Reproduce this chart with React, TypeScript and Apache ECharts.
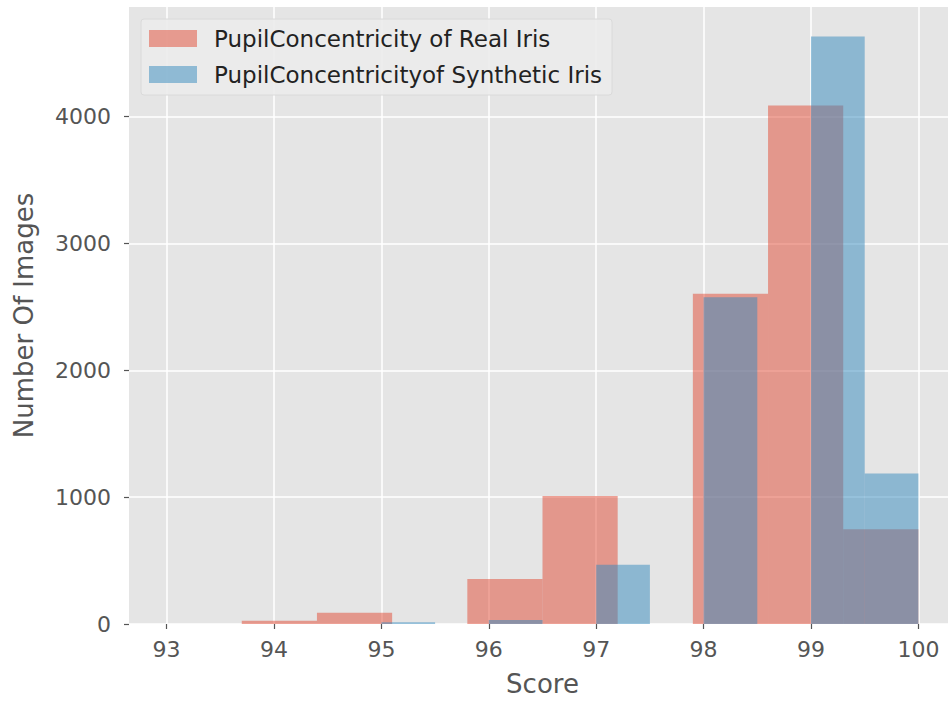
import React, { useEffect, useRef } from "react";
import * as echarts from "echarts";

const realEdges = [93.0, 93.7, 94.4, 95.1, 95.8, 96.5, 97.2, 97.9, 98.6, 99.3, 100.0];
const realCounts = [0, 25, 88, 0, 355, 1010, 0, 2603, 4088, 746];
const synthEdges = [95.0, 95.5, 96.0, 96.5, 97.0, 97.5, 98.0, 98.5, 99.0, 99.5, 100.0];
const synthCounts = [13, 0, 32, 0, 468, 0, 2576, 0, 4632, 1187];
const xTicks = [93, 94, 95, 96, 97, 98, 99, 100];
const yTicks = [0, 1000, 2000, 3000, 4000];
const seriesNames = ["PupilConcentricity of Real Iris", "PupilConcentricityof Synthetic Iris"];

function toBins(edges: number[], counts: number[]) {
  return counts.map((c, i) => [edges[i], edges[i + 1], c]);
}

const renderHist = (params: any, api: any) => {
  const x0 = api.value(0);
  const x1 = api.value(1);
  const y = api.value(2);
  const p0 = api.coord([x0, y]);
  const p1 = api.coord([x1, 0]);
  return {
    type: "rect",
    shape: { x: p0[0], y: p0[1], width: p1[0] - p0[0], height: p1[1] - p0[1] },
    style: api.style(),
  };
};

export default function App() {
  const ref = useRef<HTMLDivElement>(null);
  useEffect(() => {
    if (!ref.current) return;
    const chart = echarts.init(ref.current, undefined, { renderer: "svg" });
    const font = "DejaVu Sans";
    chart.setOption({
      animation: false,
      backgroundColor: "#ffffff",
      grid: { left: 129, right: 4, top: 7, bottom: 77, show: true, backgroundColor: "#E5E5E5", borderWidth: 0 },
      legend: {
        left: 141,
        top: 19,
        orient: "vertical",
        padding: [8, 10, 9, 8],
        itemGap: 13,
        itemWidth: 48,
        itemHeight: 17,
        backgroundColor: "rgba(235,235,235,0.9)",
        borderColor: "#DADADA",
        borderWidth: 1,
        borderRadius: 3,
        icon: "rect",
        textStyle: { fontFamily: font, fontSize: 23, color: "#222222", lineHeight: 22, padding: [0, 0, 0, 12] },
        data: seriesNames,
      },
      xAxis: {
        type: "value",
        min: 92.65,
        max: 100.35,
        splitNumber: 8,
        name: "Score",
        nameLocation: "middle",
        nameGap: 47,
        nameTextStyle: { fontFamily: font, fontSize: 26, color: "#555555" },
        axisLine: { show: false },
        axisTick: { show: true, length: 5, lineStyle: { color: "#555555", width: 1.2 }, customValues: xTicks },
        axisLabel: {
          fontFamily: font,
          fontSize: 22,
          color: "#555555",
          margin: 14,
          customValues: xTicks,
          formatter: (v: number) => String(v),
        },
        splitLine: { show: true, lineStyle: { color: "#ffffff", width: 1.5 } },
      },
      yAxis: {
        type: "value",
        min: 0,
        max: 4864,
        interval: 1000,
        name: "Number Of Images",
        nameLocation: "middle",
        nameGap: 92,
        nameTextStyle: { fontFamily: font, fontSize: 26, color: "#555555" },
        axisLine: { show: false },
        axisTick: { show: true, length: 5, lineStyle: { color: "#555555", width: 1.2 }, customValues: yTicks },
        axisLabel: {
          fontFamily: font,
          fontSize: 22,
          color: "#555555",
          margin: 18,
          customValues: yTicks,
          formatter: (v: number) => String(v),
        },
        splitLine: { show: true, lineStyle: { color: "#ffffff", width: 1.5 } },
      },
      series: [
        {
          name: seriesNames[0],
          type: "custom",
          renderItem: renderHist,
          encode: { x: [0, 1], y: 2 },
          itemStyle: { color: "rgba(226,74,51,0.5)" },
          data: toBins(realEdges, realCounts),
          z: 2,
        },
        {
          name: seriesNames[1],
          type: "custom",
          renderItem: renderHist,
          encode: { x: [0, 1], y: 2 },
          itemStyle: { color: "rgba(52,138,189,0.5)" },
          data: toBins(synthEdges, synthCounts),
          z: 3,
        },
      ],
    });
    return () => chart.dispose();
  }, []);
  return (
    <div style={{ position: "fixed", left: 0, top: 0, width: 948, height: 702, overflow: "hidden", background: "#fff" }}>
      <div ref={ref} style={{ width: 960, height: 702 }} />
    </div>
  );
}
